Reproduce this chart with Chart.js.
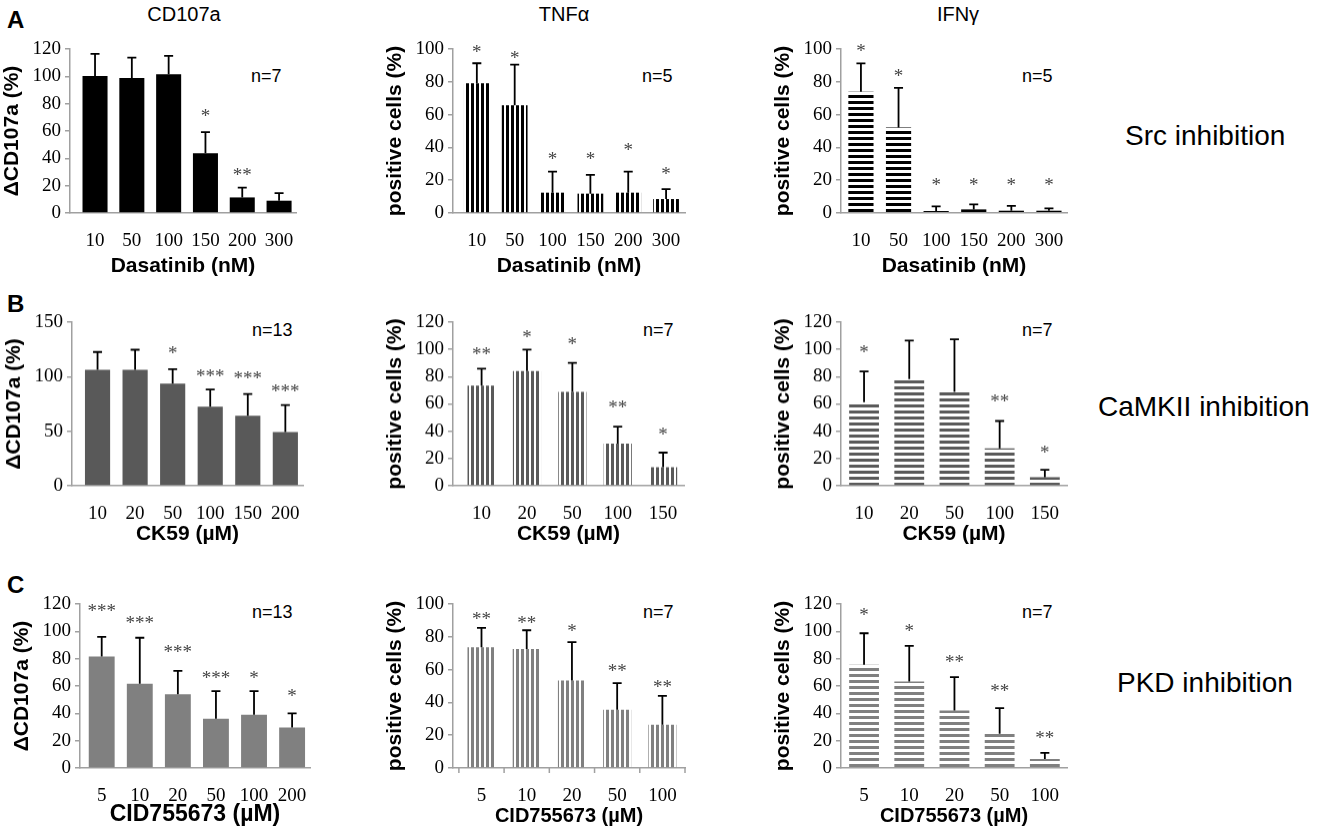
<!DOCTYPE html>
<html>
<head>
<meta charset="utf-8">
<script src="https://cdn.jsdelivr.net/npm/chart.js@4.4.1/dist/chart.umd.min.js"></script>
<style>
  html, body { margin: 0; padding: 0; background: #fff; }
  #page { position: relative; width: 1323px; height: 835px; overflow: hidden; }
  #page canvas { position: absolute; }
  .txt { position: absolute; line-height: 1; white-space: nowrap; font-family: "Liberation Sans", Arial, sans-serif; color: #000; }
</style>
</head>
<body>
<div id="page"></div>
<script>
// doses (x categories)
const dasatinibDoses = ["10", "50", "100", "150", "200", "300"];
const ck59Doses = ["10", "20", "50", "100", "150", "200"];
const ck59DosesCyto = ["10", "20", "50", "100", "150"];
const cidDoses = ["5", "10", "20", "50", "100", "200"];
const cidDosesCyto = ["5", "10", "20", "50", "100"];

// A - Src inhibition
const srcCd107a = [100.3, 98.8, 101.5, 43.8, 11.4, 9.0];
const srcCd107aSd = [16.1, 14.9, 13.4, 15.4, 7.1, 5.6];
const srcCd107aSig = ["", "", "", "*", "**", ""];
const srcCd107aSigY = [null, null, null, 72.5, 29.5, null];

const srcTnf = [79.1, 65.7, 12.4, 11.8, 12.4, 8.5];
const srcTnfSd = [12.2, 24.8, 12.8, 11.5, 12.8, 6.1];
const srcTnfSig = ["*", "*", "*", "*", "*", "*"];
const srcTnfSigY = [99.4, 95.9, 34.5, 34.5, 39.8, 25.6];

const srcIfn = [73.9, 52.2, 1.2, 2.2, 1.4, 1.4];
const srcIfnSd = [17.3, 24.1, 2.9, 3.1, 2.9, 1.4];
const srcIfnSig = ["*", "*", "*", "*", "*", "*"];
const srcIfnSigY = [100.6, 85.3, 18.3, 18.3, 18.3, 18.3];

// B - CaMKII inhibition
const camCd107a = [106.2, 106.2, 93.7, 72.4, 64.2, 49.3];
const camCd107aSd = [16.4, 18.5, 13.1, 15.8, 19.8, 24.6];
const camCd107aSig = ["", "", "*", "***", "***", "***"];
const camCd107aSigY = [null, null, 124.1, 102.2, 100.4, 89.1];

const camTnf = [73.5, 84.2, 68.9, 30.9, 13.6];
const camTnfSd = [12.4, 15.6, 21.2, 12.4, 10.7];
const camTnfSig = ["**", "*", "*", "**", "*"];
const camTnfSigY = [98.6, 111, 105.4, 59.2, 39.2];

const camIfn = [61.2, 78.3, 68.9, 27.5, 6.3];
const camIfnSd = [22.6, 28.1, 38.5, 20.0, 5.4];
const camIfnSig = ["*", "", "", "**", "*"];
const camIfnSigY = [99.7, null, null, 64, 26.3];

// C - PKD inhibition
const pkdCd107a = [81.6, 61.7, 53.9, 36.0, 38.9, 29.6];
const pkdCd107aSd = [14.4, 33.6, 17.1, 20.3, 17.4, 10.3];
const pkdCd107aSig = ["***", "***", "***", "***", "*", "*"];
const pkdCd107aSigY = [116.8, 107.8, 86.9, 67.4, 67.4, 54.6];

const pkdTnf = [73.6, 72.6, 53.3, 35.5, 26.4];
const pkdTnfSd = [11.8, 11.4, 23.4, 16.2, 17.6];
const pkdTnfSig = ["**", "**", "*", "**", "**"];
const pkdTnfSigY = [92.3, 89.9, 85.2, 60.4, 50.7];

const pkdIfn = [75.5, 63.3, 42.1, 25.1, 6.6];
const pkdIfnSd = [23.1, 26.0, 24.4, 18.7, 4.4];
const pkdIfnSig = ["*", "*", "**", "**", "**"];
const pkdIfnSigY = [113.9, 101.8, 79.6, 58.4, 23.6];

const SANS = '"Liberation Sans", Arial, sans-serif';
const SERIF = '"Liberation Serif", "Times New Roman", serif';
const AXIS_GREY = "#a0a0a0";

const stripes = (color, dir) => {
  const c = document.createElement("canvas");
  c.width = dir === "v" ? 5 : 1;
  c.height = dir === "v" ? 1 : 6;
  const g = c.getContext("2d");
  g.fillStyle = color;
  if (dir === "v") g.fillRect(0, 0, 3, 1);
  else g.fillRect(0, 0, 1, 3);
  return g.createPattern(c, "repeat");
};

const CD_TITLE = "\u0394CD107a (%)";
const POS_TITLE = "positive cells (%)";

// box = plot area on the page: y-axis x, x-axis end, top tick y, zero y
// band = height below the x axis (ticks + title)
const panels = [
  { labels: dasatinibDoses, mean: srcCd107a, sd: srcCd107aSd, sig: srcCd107aSig, sigY: srcCd107aSigY,
    yMax: 120, step: 20, fill: "#000", yTitle: CD_TITLE, xTitle: "Dasatinib (nM)", xFont: 21,
    box: [70, 296, 48.5, 213], band: 68, xMin: -0.68, xMax: 5.46, bar: 0.68 },
  { labels: dasatinibDoses, mean: srcTnf, sd: srcTnfSd, sig: srcTnfSig, sigY: srcTnfSigY,
    yMax: 100, step: 20, fill: stripes("#000", "v"), yTitle: POS_TITLE, xTitle: "Dasatinib (nM)", xFont: 21,
    box: [453, 685, 48.5, 213], band: 68, xMin: -0.63, xMax: 5.5, bar: 0.68 },
  { labels: dasatinibDoses, mean: srcIfn, sd: srcIfnSd, sig: srcIfnSig, sigY: srcIfnSigY,
    yMax: 100, step: 20, fill: stripes("#000", "h"), yTitle: POS_TITLE, xTitle: "Dasatinib (nM)", xFont: 21,
    box: [841, 1067, 48.5, 213], band: 68, xMin: -0.53, xMax: 5.48, bar: 0.67 },
  { labels: ck59Doses, mean: camCd107a, sd: camCd107aSd, sig: camCd107aSig, sigY: camCd107aSigY,
    yMax: 150, step: 50, fill: "#595959", yTitle: CD_TITLE, xTitle: "CK59 (\u00b5M)", xFont: 21,
    box: [72, 303, 322, 485.5], band: 63, xMin: -0.68, xMax: 5.47, bar: 0.67 },
  { labels: ck59DosesCyto, mean: camTnf, sd: camTnfSd, sig: camTnfSig, sigY: camTnfSigY,
    yMax: 120, step: 20, fill: stripes("#595959", "v"), yTitle: POS_TITLE, xTitle: "CK59 (\u00b5M)", xFont: 21,
    box: [453, 684, 322, 485.5], band: 63, xMin: -0.63, xMax: 4.46, bar: 0.62 },
  { labels: ck59DosesCyto, mean: camIfn, sd: camIfnSd, sig: camIfnSig, sigY: camIfnSigY,
    yMax: 120, step: 20, fill: stripes("#595959", "h"), yTitle: POS_TITLE, xTitle: "CK59 (\u00b5M)", xFont: 21,
    box: [841, 1067, 322, 485.5], band: 63, xMin: -0.51, xMax: 4.49, bar: 0.66 },
  { labels: cidDoses, mean: pkdCd107a, sd: pkdCd107aSd, sig: pkdCd107aSig, sigY: pkdCd107aSigY,
    yMax: 120, step: 20, fill: "#808080", yTitle: CD_TITLE, xTitle: "CID755673 (\u00b5M)", xFont: 23,
    box: [80, 310, 604, 768], band: 62, xMin: -0.57, xMax: 5.47, bar: 0.68, titleShift: -12 },
  { labels: cidDosesCyto, mean: pkdTnf, sd: pkdTnfSd, sig: pkdTnfSig, sigY: pkdTnfSigY,
    yMax: 100, step: 20, fill: stripes("#808080", "v"), yTitle: POS_TITLE, xTitle: "CID755673 (\u00b5M)", xFont: 20,
    box: [453, 685, 604, 768], band: 62, xMin: -0.63, xMax: 4.5, bar: 0.62, boundaryTicks: true },
  { labels: cidDosesCyto, mean: pkdIfn, sd: pkdIfnSd, sig: pkdIfnSig, sigY: pkdIfnSigY,
    yMax: 120, step: 20, fill: stripes("#808080", "h"), yTitle: POS_TITLE, xTitle: "CID755673 (\u00b5M)", xFont: 20,
    box: [841, 1067, 604, 768], band: 62, xMin: -0.51, xMax: 4.49, bar: 0.66 }
];

// free text on the page: [text, x, baseline, size, bold, centred]
const notes = [
  ["A", 7, 28, 24, true, false],
  ["B", 7, 312, 24, true, false],
  ["C", 7, 593, 24, true, false],
  ["CD107a", 184, 21, 20, false, true],
  ["TNF\u03b1", 564, 21, 20, false, true],
  ["IFN\u03b3", 958, 21, 20, false, true],
  ["Src inhibition", 1125, 146, 28, false, false],
  ["CaMKII inhibition", 1098, 417, 28, false, false],
  ["PKD inhibition", 1117, 693, 28, false, false],
  ["n=7", 251, 82, 18, false, false],
  ["n=5", 642, 82, 18, false, false],
  ["n=5", 1022, 82, 18, false, false],
  ["n=13", 252, 336, 18, false, false],
  ["n=7", 643, 336, 18, false, false],
  ["n=7", 1022, 336, 18, false, false],
  ["n=13", 252, 618, 18, false, false],
  ["n=7", 643, 618, 18, false, false],
  ["n=7", 1022, 618, 18, false, false]
];

const page = document.getElementById("page");

notes.forEach(([text, x, base, size, bold, centred]) => {
  const d = document.createElement("div");
  d.className = "txt";
  d.textContent = text;
  d.style.fontSize = size + "px";
  d.style.fontWeight = bold ? "bold" : "normal";
  d.style.left = x + "px";
  d.style.top = base - 0.85 * size + "px";
  if (centred) d.style.transform = "translateX(-50%)";
  page.appendChild(d);
});

// error bars (upper only), significance stars, optional boundary ticks
const marksPlugin = (p) => ({
  id: "marks",
  afterDatasetsDraw(chart) {
    const { ctx, scales: { x, y } } = chart;
    ctx.save();
    ctx.strokeStyle = "#000";
    ctx.lineWidth = 1.8;
    p.mean.forEach((v, i) => {
      const px = x.getPixelForValue(i);
      const y0 = y.getPixelForValue(v);
      const y1 = y.getPixelForValue(v + p.sd[i]);
      ctx.beginPath();
      ctx.moveTo(px, y0);
      ctx.lineTo(px, y1);
      ctx.moveTo(px - 4.5, y1);
      ctx.lineTo(px + 4.5, y1);
      ctx.stroke();
    });
    ctx.fillStyle = "#444";
    ctx.font = "19px " + SERIF;
    ctx.textAlign = "center";
    ctx.textBaseline = "alphabetic";
    p.sig.forEach((s, i) => {
      if (!s) return;
      ctx.fillText(s, x.getPixelForValue(i), y.getPixelForValue(p.sigY[i]) + 8.5);
    });
    if (p.boundaryTicks) {
      ctx.strokeStyle = AXIS_GREY;
      ctx.lineWidth = 1.5;
      for (let k = 0; k <= p.labels.length; k++) {
        const bx = x.getPixelForValue(k - 0.5);
        ctx.beginPath();
        ctx.moveTo(bx, y.bottom);
        ctx.lineTo(bx, y.bottom + 5);
        ctx.stroke();
      }
    }
    ctx.restore();
  }
});

const LEFT = 72, TOP = 20, RIGHT = 8;

panels.forEach((p) => {
  const [axisX, axisEnd, topY, zeroY] = p.box;
  const canvas = document.createElement("canvas");
  const w = axisEnd - axisX + LEFT + RIGHT;
  const h = zeroY - topY + TOP + p.band;
  canvas.width = w;
  canvas.height = h;
  canvas.style.left = axisX - LEFT + "px";
  canvas.style.top = topY - TOP + "px";
  canvas.style.width = w + "px";
  canvas.style.height = h + "px";
  page.appendChild(canvas);

  new Chart(canvas.getContext("2d"), {
    type: "bar",
    data: {
      datasets: [
        {
          data: p.mean.map((v, i) => ({ x: i, y: v })),
          backgroundColor: p.fill,
          borderWidth: 0,
          categoryPercentage: 1,
          barPercentage: p.bar
        }
      ]
    },
    options: {
      responsive: false,
      animation: false,
      devicePixelRatio: 1,
      layout: { padding: { left: 0, top: TOP, right: RIGHT, bottom: 0 } },
      plugins: { legend: { display: false }, tooltip: { enabled: false } },
      scales: {
        x: {
          type: "linear",
          offset: false,
          min: p.xMin,
          max: p.xMax,
          afterBuildTicks: (s) => {
            s.ticks = p.labels.map((_, i) => ({ value: i }));
          },
          afterFit: (s) => {
            s.height = p.band;
            s.paddingLeft = 0;
            s.paddingRight = 0;
          },
          grid: { display: false },
          border: { color: AXIS_GREY, width: 1.5 },
          ticks: {
            autoSkip: false,
            maxRotation: 0,
            padding: 9,
            color: "#000",
            font: { family: SERIF, size: 19 },
            callback: (v) => p.labels[v] ?? ""
          },
          title: {
            display: true,
            text: p.xTitle,
            color: "#000",
            font: { family: SANS, size: p.xFont, weight: "bold" },
            padding: { top: 0, bottom: 2 }
          }
        },
        y: {
          min: 0,
          max: p.yMax,
          afterFit: (s) => {
            s.width = LEFT;
          },
          grid: {
            drawOnChartArea: false,
            drawTicks: true,
            tickLength: 5,
            color: AXIS_GREY,
            lineWidth: 1.5
          },
          border: { color: AXIS_GREY, width: 1.5 },
          ticks: {
            stepSize: p.step,
            padding: 4,
            color: "#000",
            font: { family: SERIF, size: 19 }
          },
          title: {
            display: true,
            text: p.yTitle,
            color: "#000",
            font: { family: SANS, size: 21, weight: "bold" },
            padding: { top: 2, bottom: 0 }
          }
        }
      }
    },
    plugins: [marksPlugin(p)]
  });
});
</script>
</body>
</html>
